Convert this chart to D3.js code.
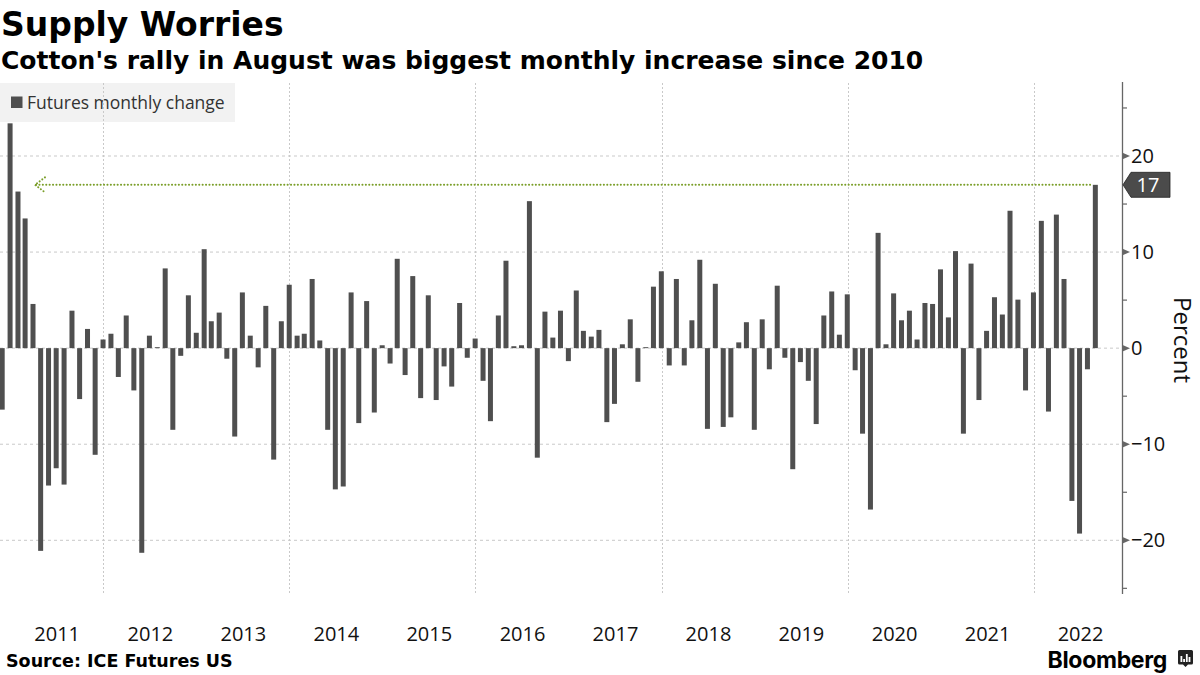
<!DOCTYPE html>
<html>
<head>
<meta charset="utf-8">
<script src="https://cdn.jsdelivr.net/npm/d3@7/dist/d3.min.js"></script>
<style>
  html, body { margin: 0; padding: 0; background: #ffffff; }
  svg { display: block; }
</style>
</head>
<body>
<svg id="chart" width="1200" height="675"></svg>
<script>
// ---------------- DATA (monthly % change of cotton futures, month-end) ----------------
const firstMonth = "2010-11";   // first bar: November 2010
const values2010 = [-6.4, 23.4];
const values2011 = [16.3, 13.5, 4.6, -21.1, -14.3, -12.5, -14.2, 3.9, -5.3, 2.0, -11.1, 0.9];
const values2012 = [1.5, -3.0, 3.4, -4.4, -21.3, 1.3, 0.1, 8.3, -8.5, -0.8, 5.5, 1.6];
const values2013 = [10.3, 2.8, 3.7, -1.1, -9.2, 5.8, 1.3, -2.0, 4.4, -11.6, 2.8, 6.6];
const values2014 = [1.3, 1.5, 7.2, 0.8, -8.5, -14.7, -14.4, 5.8, -7.8, 4.9, -6.7, 0.3];
const values2015 = [-1.6, 9.3, -2.8, 7.5, -5.2, 5.5, -5.4, -1.9, -4.0, 4.7, -1.0, 1.0];
const values2016 = [-3.4, -7.6, 3.4, 9.1, 0.2, 0.3, 15.3, -11.4, 3.8, 1.1, 3.9, -1.35];
const values2017 = [6.0, 1.8, 1.2, 1.9, -7.7, -5.8, 0.4, 3.0, -3.5, 0.1, 6.4, 8.0];
const values2018 = [-1.8, 7.2, -1.8, 2.9, 9.2, -8.4, 6.7, -8.2, -7.2, 0.6, 2.7, -8.5];
const values2019 = [3.0, -2.2, 6.5, -1.0, -12.6, -1.45, -3.4, -7.9, 3.4, 5.9, 1.4, 5.6];
const values2020 = [-2.3, -8.9, -16.8, 12.0, 0.4, 5.7, 2.9, 3.9, 0.9, 4.7, 4.6, 8.2];
const values2021 = [3.2, 10.1, -8.9, 8.8, -5.4, 1.8, 5.3, 3.5, 14.3, 5.05, -4.4, 5.8];
const values2022 = [13.25, -6.6, 13.9, 7.2, -15.9, -19.3, -2.2, 17.0];

const yTickValues = [-20, -10, 0, 10, 20];
const yMinorTicks = [-25, -15, -5, 5, 15, 25];
const yearLabels = ["2011","2012","2013","2014","2015","2016","2017","2018","2019","2020","2021","2022"];
const gridYears = [2012, 2014, 2016, 2018, 2020, 2022];
const latestLabel = "17";

const titleText = "Supply Worries";
const subtitleText = "Cotton's rally in August was biggest monthly increase since 2010";
const legendText = "Futures monthly change";
const axisTitle = "Percent";
const sourceText = "Source: ICE Futures US";

// ---------------- BUILD ----------------
const allValues = [].concat(values2010, values2011, values2012, values2013, values2014,
  values2015, values2016, values2017, values2018, values2019, values2020, values2021, values2022);
const [fy, fm] = firstMonth.split("-").map(Number);
const data = allValues.map((v, i) => {
  const d = new Date(fy, fm - 1 + i + 1, 0); // last day of month
  return { date: d, value: v };
});

const svg = d3.select("#chart");
const plotTop = 83, plotBottom = 595, plotLeft = 0, plotRight = 1122;

const x = d3.scaleTime()
  .domain([new Date(2012, 0, 1), new Date(2022, 0, 1)])
  .range([103.3, 1033.7]);
const y = d3.scaleLinear().domain([-20, 20]).range([540.3, 156]);

const barColor = "#4f4f4f";
const gridColor = "#c9c9c9";
const regular = "'Open Sans', 'DejaVu Sans', sans-serif";
const boldFont = "'DejaVu Sans', Verdana, sans-serif";

// Title & subtitle
svg.append("text").attr("x", 1).attr("y", 36)
  .style("font-family", boldFont).style("font-weight", "bold").style("font-size", "33px")
  .attr("fill", "#000").text(titleText);
svg.append("text").attr("x", 1).attr("y", 69)
  .style("font-family", boldFont).style("font-weight", "bold").style("font-size", "25px")
  .attr("fill", "#000").text(subtitleText);

// Legend background
const legend = svg.append("g");
legend.append("rect").attr("x", 0).attr("y", 83).attr("width", 235).attr("height", 39)
  .attr("fill", "#f2f2f2");
legend.append("rect").attr("x", 11).attr("y", 96.5).attr("width", 11.5).attr("height", 11.5)
  .attr("fill", barColor);
legend.append("text").attr("x", 27).attr("y", 109)
  .style("font-family", regular).style("font-size", "17.5px").attr("fill", "#333")
  .text(legendText);

// Gridlines
const grid = svg.append("g");
grid.selectAll("line.h").data(yTickValues).join("line")
  .attr("x1", plotLeft).attr("x2", plotRight)
  .attr("y1", d => y(d)).attr("y2", d => y(d))
  .attr("stroke", gridColor).attr("stroke-width", 1).attr("stroke-dasharray", "3,3");
grid.selectAll("line.v").data(gridYears).join("line")
  .attr("x1", d => Math.round(x(new Date(d, 0, 1))) + 0.5)
  .attr("x2", d => Math.round(x(new Date(d, 0, 1))) + 0.5)
  .attr("y1", plotTop).attr("y2", plotBottom)
  .attr("stroke", gridColor).attr("stroke-width", 1).attr("stroke-dasharray", "2,2");

// Bars
const barW = 5;
svg.append("g").selectAll("rect").data(data).join("rect")
  .attr("x", d => x(d.date) - barW / 2)
  .attr("width", barW)
  .attr("y", d => y(Math.max(0, d.value)))
  .attr("height", d => Math.max(0.8, Math.abs(y(d.value) - y(0))))
  .attr("fill", barColor);

// Reference line to the latest value
const last = data[data.length - 1];
const refY = y(last.value);
const green = "#7a9e28";
const ref = svg.append("g");
ref.append("line")
  .attr("x1", 36).attr("x2", x(last.date) - 3)
  .attr("y1", refY).attr("y2", refY)
  .attr("stroke", green).attr("stroke-width", 2)
  .attr("stroke-dasharray", "0.1,3.3").attr("stroke-linecap", "round");
ref.append("polyline")
  .attr("points", `45,${refY - 7.5} 35,${refY} 45,${refY + 7.5}`)
  .attr("fill", "none").attr("stroke", green).attr("stroke-width", 2)
  .attr("stroke-dasharray", "0.1,3.2").attr("stroke-linecap", "round");

// Y axis (right)
const yAxisG = svg.append("g").attr("transform", `translate(${plotRight},0)`);
yAxisG.append("line").attr("x1", 0.5).attr("x2", 0.5).attr("y1", plotTop - 1).attr("y2", plotBottom - 1)
  .attr("stroke", "#666").attr("stroke-width", 1.3);
yAxisG.selectAll("line.minor").data(yMinorTicks).join("line")
  .attr("x1", 0.5).attr("x2", 5).attr("y1", d => y(d)).attr("y2", d => y(d))
  .attr("stroke", "#666").attr("stroke-width", 1.2);
yAxisG.selectAll("path.major").data(yTickValues).join("path")
  .attr("d", d => `M0,${y(d) - 3.5} L8,${y(d)} L0,${y(d) + 3.5} Z`)
  .attr("fill", "#666");
yAxisG.selectAll("text.lbl").data(yTickValues).join("text")
  .attr("x", 9).attr("y", d => y(d)).attr("dy", "0.35em")
  .style("font-family", regular).style("font-size", "20px").attr("fill", "#111")
  .text(d => d3.format("d")(d));

// Latest value label
const lbl = svg.append("g").attr("transform", `translate(${plotRight + 1},${refY})`);
lbl.append("path")
  .attr("d", "M0,0 L8,-12.5 L47,-12.5 L47,12.5 L8,12.5 Z")
  .attr("fill", "#4b4b4b").attr("stroke", "#222").attr("stroke-width", 0.8);
lbl.append("text").attr("x", 25).attr("y", 0).attr("dy", "0.36em").attr("text-anchor", "middle")
  .style("font-family", regular).style("font-size", "20px").attr("fill", "#fff")
  .text(latestLabel);

// Axis title
svg.append("text")
  .attr("transform", `translate(1174,340) rotate(90)`)
  .attr("text-anchor", "middle")
  .style("font-family", regular).style("font-size", "24px").attr("fill", "#111")
  .text(axisTitle);

// X axis year labels (mid-year)
const xAxis = d3.axisBottom(x)
  .tickValues(yearLabels.map(yv => new Date(+yv, 6, 2)))
  .tickFormat(d3.timeFormat("%Y"))
  .tickSize(0).tickPadding(0);
const xAxisG = svg.append("g").attr("transform", `translate(0,627)`).call(xAxis);
xAxisG.select(".domain").remove();
xAxisG.selectAll("text")
  .style("font-family", regular).style("font-size", "20px").attr("fill", "#111");

// Source
svg.append("text").attr("x", 6).attr("y", 667)
  .style("font-family", boldFont).style("font-weight", "bold").style("font-size", "17.5px")
  .attr("fill", "#000").text(sourceText);

// Bloomberg wordmark
svg.append("text").attr("x", 1167).attr("y", 668).attr("text-anchor", "end")
  .style("font-family", "Inter, 'DejaVu Sans', sans-serif").style("font-weight", "bold")
  .style("font-size", "23px").style("letter-spacing", "-0.3px").attr("fill", "#000")
  .text("Bloomberg");
const icon = svg.append("g").attr("transform", "translate(1178,650)");
icon.append("path").attr("d", "M1.5,0 H13.5 Q15,0 15,1.5 V13 Q15,14.5 13.5,14.5 H10 L7.5,17 L5,14.5 H1.5 Q0,14.5 0,13 V1.5 Q0,0 1.5,0 Z")
  .attr("fill", "#222");
icon.selectAll("rect.b").data([6, 3, 8, 5]).join("rect")
  .attr("x", (d, i) => 2.5 + i * 2.7).attr("y", d => 12 - d).attr("width", 1.8).attr("height", d => d)
  .attr("fill", "#fff");
</script>
</body>
</html>
